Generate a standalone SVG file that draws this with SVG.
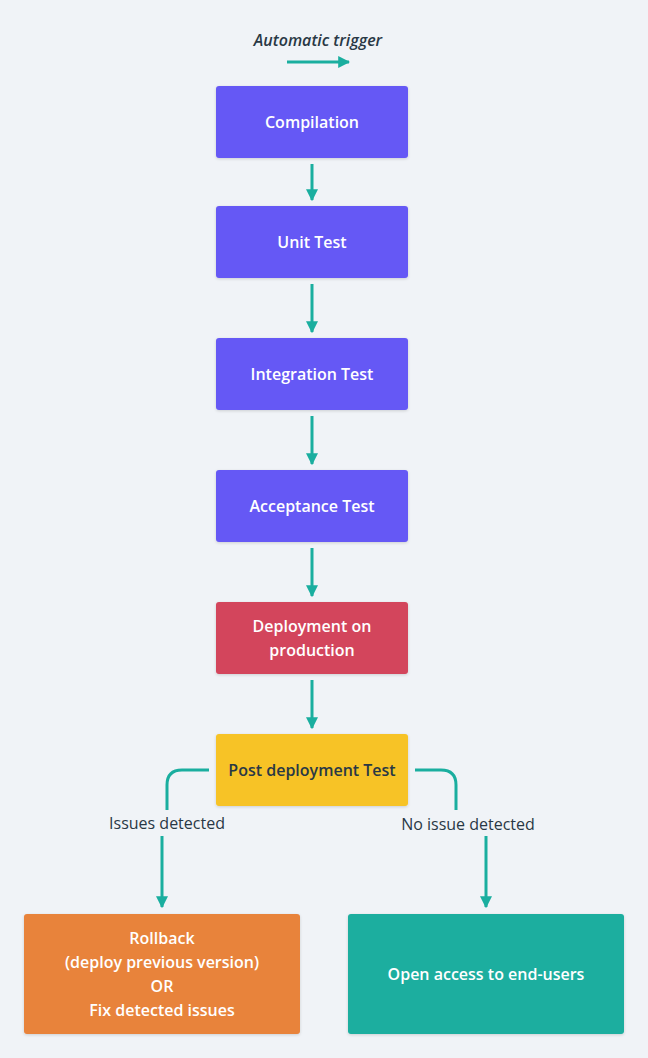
<svg xmlns="http://www.w3.org/2000/svg" width="648" height="1058" viewBox="0 0 648 1058">
<style>
.node rect{stroke:none}
.t{font-family:"Open Sans","Liberation Sans",sans-serif;font-size:16px;font-weight:600;text-anchor:middle;fill:#ffffff}
.d{fill:#293845}
.lbl{font-family:"Open Sans","Liberation Sans",sans-serif;font-size:16px;font-weight:500;text-anchor:middle;fill:#293845}
.c{fill:none;stroke:#1aae9f;stroke-width:3}
</style>
<defs>
<filter id="sh" x="-10%" y="-10%" width="120%" height="130%">
<feDropShadow dx="0" dy="1" stdDeviation="1.5" flood-color="#000" flood-opacity="0.15"/>
</filter>
<marker id="ah" viewBox="0 0 10 10" refX="9" refY="5" markerWidth="4" markerHeight="4" orient="auto" markerUnits="strokeWidth">
<path d="M0,0 L10,5 L0,10 z" fill="#1aae9f"/>
</marker>
</defs>
<rect width="648" height="1058" fill="#f0f3f7"/>
<text x="318" y="46" class="lbl" style="font-style:italic;font-weight:600">Automatic trigger</text>
<g id="connectors">
<line class="c" x1="287" y1="62" x2="349" y2="62" marker-end="url(#ah)"/>
<line class="c" x1="312" y1="164" x2="312" y2="200" marker-end="url(#ah)"/>
<line class="c" x1="312" y1="284" x2="312" y2="332" marker-end="url(#ah)"/>
<line class="c" x1="312" y1="416" x2="312" y2="464" marker-end="url(#ah)"/>
<line class="c" x1="312" y1="548" x2="312" y2="596" marker-end="url(#ah)"/>
<line class="c" x1="312" y1="680" x2="312" y2="728" marker-end="url(#ah)"/>
<path class="c" d="M209,770 H182 Q167,770 167,785 V810"/>
<line class="c" x1="162" y1="836" x2="162" y2="907" marker-end="url(#ah)"/>
<path class="c" d="M415,770 H441 Q456,770 456,785 V810"/>
<line class="c" x1="486" y1="836" x2="486" y2="907" marker-end="url(#ah)"/>
<text x="167" y="829" class="lbl">Issues detected</text>
<text x="468" y="830" class="lbl">No issue detected</text>
</g>
<g id="compilation" class="node"><rect x="216" y="86" width="192" height="72" rx="3" fill="#6558f5" filter="url(#sh)"/><text x="312" y="128" class="t">Compilation</text></g>
<g id="unit-test" class="node"><rect x="216" y="206" width="192" height="72" rx="3" fill="#6558f5" filter="url(#sh)"/><text x="312" y="248" class="t">Unit Test</text></g>
<g id="integration-test" class="node"><rect x="216" y="338" width="192" height="72" rx="3" fill="#6558f5" filter="url(#sh)"/><text x="312" y="380" class="t">Integration Test</text></g>
<g id="acceptance-test" class="node"><rect x="216" y="470" width="192" height="72" rx="3" fill="#6558f5" filter="url(#sh)"/><text x="312" y="512" class="t">Acceptance Test</text></g>
<g id="deployment" class="node"><rect x="216" y="602" width="192" height="72" rx="3" fill="#d3455b" filter="url(#sh)"/><text x="312" y="632" class="t">Deployment on</text><text x="312" y="656" class="t">production</text></g>
<g id="post-deployment" class="node"><rect x="216" y="734" width="192" height="72" rx="3" fill="#f7c325" filter="url(#sh)"/><text x="312" y="776" class="t d">Post deployment Test</text></g>
<g id="rollback" class="node"><rect x="24" y="914" width="276" height="120" rx="3" fill="#e8833a" filter="url(#sh)"/>
<text x="162" y="944" class="t">Rollback</text><text x="162" y="968" class="t">(deploy previous version)</text><text x="162" y="992" class="t">OR</text><text x="162" y="1016" class="t">Fix detected issues</text></g>
<g id="open-access" class="node"><rect x="348" y="914" width="276" height="120" rx="3" fill="#1aae9f" filter="url(#sh)"/><text x="486" y="980" class="t">Open access to end-users</text></g>
</svg>
